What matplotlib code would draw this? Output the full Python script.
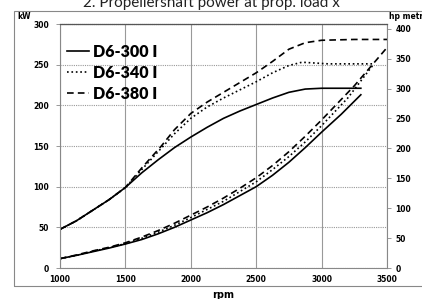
import matplotlib
matplotlib.use("Agg")
import matplotlib.pyplot as plt
from matplotlib.patches import Rectangle

# ── data ──
# full-load power curves (kW)
d300_rpm = [1000, 1125, 1250, 1375, 1500, 1625, 1750, 1875, 2000, 2125, 2250,
            2375, 2500, 2625, 2750, 2875, 3000, 3150, 3300]
d300_kw = [47.5, 58, 71, 84, 99, 117, 133, 148, 161, 173, 184,
           193, 201, 209, 216, 220, 221, 221, 221]
d340_rpm = [1000, 1125, 1250, 1375, 1500, 1625, 1750, 1875, 2000, 2125, 2250,
            2375, 2500, 2625, 2750, 2850, 2950, 3050, 3400]
d340_kw = [47.5, 58, 71, 84, 99, 121, 143, 165, 184, 198, 209,
           219, 229, 240, 249, 253, 252, 251, 251]
d380_rpm = [1000, 1125, 1250, 1375, 1500, 1625, 1775, 1875, 2000, 2125, 2250,
            2375, 2500, 2625, 2750, 2875, 3000, 3250, 3500]
d380_kw = [47.5, 58, 71, 84, 99, 123, 150, 170, 190, 204, 216,
           228, 240, 254, 269, 277, 280, 281, 281]

# propeller load curves (kW)
p300_rpm = [1000, 1125, 1250, 1375, 1500, 1625, 1750, 1875, 2000, 2125, 2250,
            2375, 2500, 2625, 2750, 2875, 3000, 3150, 3300]
p300_kw = [11.5, 15.5, 20, 24.5, 29.5, 35, 42, 50, 59, 68, 78,
           89, 100, 114, 130, 148, 167, 189, 213]
p340_rpm = [1000, 1125, 1250, 1375, 1500, 1625, 1750, 1875, 2000, 2125, 2250,
            2375, 2500, 2625, 2750, 2875, 3000, 3200, 3400]
p340_kw = [11.5, 15.5, 20.5, 25, 30, 36.5, 44, 52.5, 62, 72, 82,
           94, 106, 121, 137, 155, 175, 209, 251]
p380_rpm = [1000, 1125, 1250, 1375, 1500, 1625, 1750, 1875, 2000, 2125, 2250,
            2375, 2500, 2625, 2750, 2875, 3000, 3250, 3500]
p380_kw = [11.5, 16, 21, 25.5, 31, 38, 46, 55, 65, 75, 86,
           98, 111, 126, 143, 162, 182, 224, 271]

labels = ["D6-300 I", "D6-340 I", "D6-380 I"]
x_ticks = [1000, 1500, 2000, 2500, 3000, 3500]
kw_ticks = list(range(0, 301, 50))
hp_ticks = list(range(0, 401, 50))
KW_TO_HP = 1.3596

fig = plt.figure(figsize=(4.22, 2.99), dpi=100)
ax = fig.add_axes([60 / 422, 31 / 299, 327 / 422, 244 / 299])

lw = 1.2
styles = ["-", ":", (0, (4, 2.5))]
for (r, k), (pr, pk), ls, lab in zip(
        [(d300_rpm, d300_kw), (d340_rpm, d340_kw), (d380_rpm, d380_kw)],
        [(p300_rpm, p300_kw), (p340_rpm, p340_kw), (p380_rpm, p380_kw)],
        styles, labels):
    ax.plot(r, k, color="black", linestyle=ls, linewidth=lw, label=lab)
    ax.plot(pr, pk, color="black", linestyle=ls, linewidth=lw)

ax.set_xlim(1000, 3500)
ax.set_ylim(0, 300)
ax.set_xticks(x_ticks)
ax.set_yticks(kw_ticks)
ax.set_xticklabels([str(v) for v in x_ticks], fontsize=5.5, fontweight="bold")
ax.set_yticklabels([str(v) for v in kw_ticks], fontsize=5.5, fontweight="bold")
ax.tick_params(axis="x", length=0, pad=5)
ax.tick_params(axis="y", length=3, width=0.6, color="#888888", pad=5)

ax.grid(axis="y", color="#999999", linestyle=(0, (1, 1)), linewidth=0.8)
ax.grid(axis="x", color="#999999", linestyle="-", linewidth=0.8)
for s in ["left", "right", "bottom"]:
    ax.spines[s].set_color("#888888")
    ax.spines[s].set_linewidth(0.8)
ax.spines["top"].set_color("#555555")
ax.spines["top"].set_linestyle((0, (1, 0.6)))
ax.spines["top"].set_linewidth(0.9)

ax2 = ax.twinx()
ax2.set_ylim(0, 300 * KW_TO_HP)
ax2.set_yticks(hp_ticks)
ax2.set_yticklabels([str(v) for v in hp_ticks], fontsize=5.5, fontweight="bold")
ax2.tick_params(axis="y", length=3, width=0.6, color="#888888", pad=3)
for s in ax2.spines.values():
    s.set_visible(False)

ax.set_xlabel("rpm", fontsize=7, fontweight="bold", labelpad=4)
fig.text(17 / 422, 1 - 19 / 299, "kW", fontsize=5.5, fontweight="bold")
fig.text(389 / 422, 1 - 19 / 299, "hp metric", fontsize=5.5, fontweight="bold")

leg = ax.legend(loc="upper left", bbox_to_anchor=(67 / 422, 1 - 44 / 299),
                bbox_transform=fig.transFigure, frameon=False,
                borderpad=0, borderaxespad=0,
                prop={"family": "Lato", "weight": "heavy", "size": 11.5},
                handlelength=1.4, handletextpad=0.2, labelspacing=0.3)

fig.text(211 / 422, 1 - 7 / 299, "2. Propellershaft power at prop. load x",
         ha="center", va="baseline", fontsize=11, family="Lato", color="#222222")

fig.patches.append(Rectangle((14 / 422, 13 / 299), 420 / 422, 275 / 299,
                             transform=fig.transFigure, fill=False,
                             edgecolor="#888888", linewidth=0.8))

fig.savefig("out.png", dpi=100)
